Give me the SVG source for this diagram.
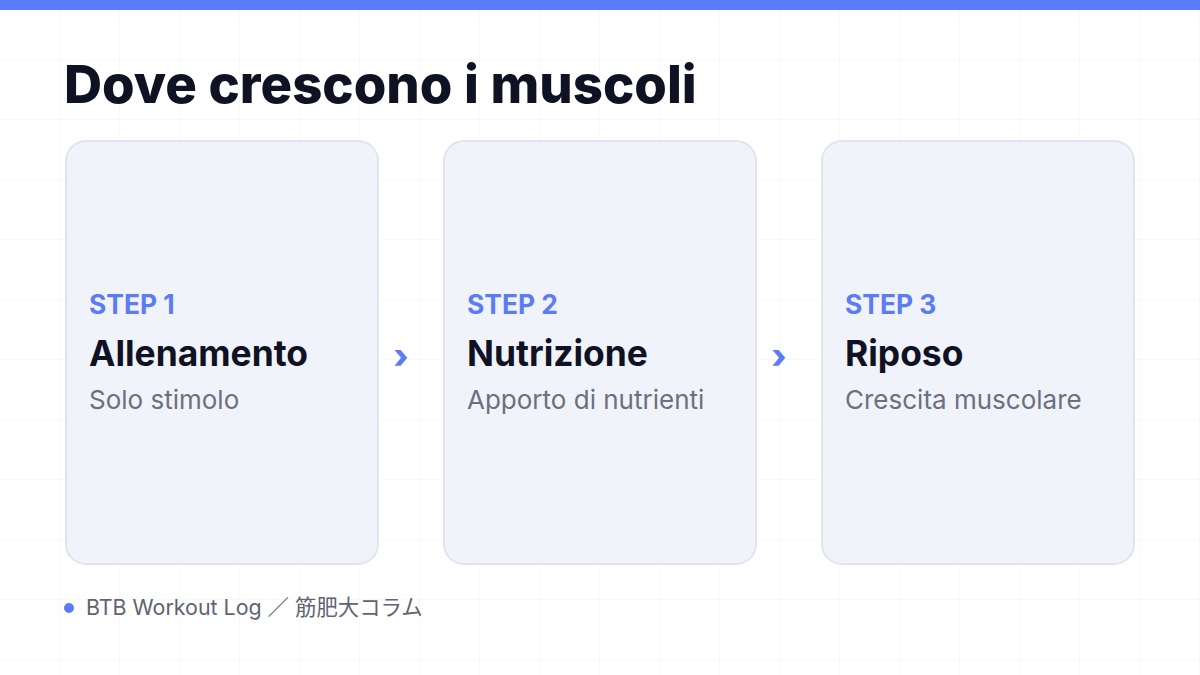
<svg xmlns="http://www.w3.org/2000/svg" width="1200" height="675" viewBox="0 0 1200 675">
<defs>
<pattern id="grid" width="60" height="60" patternUnits="userSpaceOnUse">
<path d="M60 0V60M0 60H60" fill="none" stroke="#f1f2f5" stroke-width="1"/>
</pattern>
</defs>
<style>
.card{fill:#f1f3fb;stroke:#e1e4ef;stroke-width:2}
.step{font-family:Inter,"Liberation Sans",sans-serif;font-weight:700;font-size:26.4px;fill:#5b7cf2}
.ttl{font-family:Inter,"Liberation Sans",sans-serif;font-weight:700;font-size:35.4px;fill:#0f1222}
.sub{font-family:Inter,"Liberation Sans",sans-serif;font-size:26px;fill:#6b7080}
.chev{font-family:Inter,"Liberation Sans",sans-serif;font-weight:800;font-size:34px;fill:#5b7cf2}
</style>
<rect width="1200" height="675" fill="#ffffff"/>
<rect width="1200" height="675" fill="url(#grid)"/>
<rect width="1200" height="10" fill="#5b7cfa"/>
<text x="64" y="103" font-family="Inter,'Liberation Sans',sans-serif" font-weight="800" font-size="52.7" fill="#0f1222">Dove crescono i muscoli</text>
<g id="step1">
<rect class="card" x="66" y="141" width="312" height="423" rx="20"/>
<text class="step" x="89" y="314">STEP 1</text>
<text class="ttl" x="89" y="366">Allenamento</text>
<text class="sub" x="89" y="409">Solo stimolo</text>
</g>
<g id="step2">
<rect class="card" x="444" y="141" width="312" height="423" rx="20"/>
<text class="step" x="467" y="314">STEP 2</text>
<text class="ttl" x="467" y="366">Nutrizione</text>
<text class="sub" x="467" y="409">Apporto di nutrienti</text>
</g>
<g id="step3">
<rect class="card" x="822" y="141" width="312" height="423" rx="20"/>
<text class="step" x="845" y="314">STEP 3</text>
<text class="ttl" x="845" y="366">Riposo</text>
<text class="sub" x="845" y="409">Crescita muscolare</text>
</g>
<g id="connectors">
<text class="chev" x="401" y="368" text-anchor="middle">›</text>
<text class="chev" x="779" y="368" text-anchor="middle">›</text>
</g>
<g id="footer">
<circle cx="69" cy="608" r="5" fill="#5b7cf2"/>
<text x="86" y="615" font-family="Inter,'Liberation Sans','Noto Sans CJK JP',sans-serif" font-size="21.4" fill="#5f6372">BTB Workout Log ／ 筋肥大コラム</text>
</g>
</svg>
